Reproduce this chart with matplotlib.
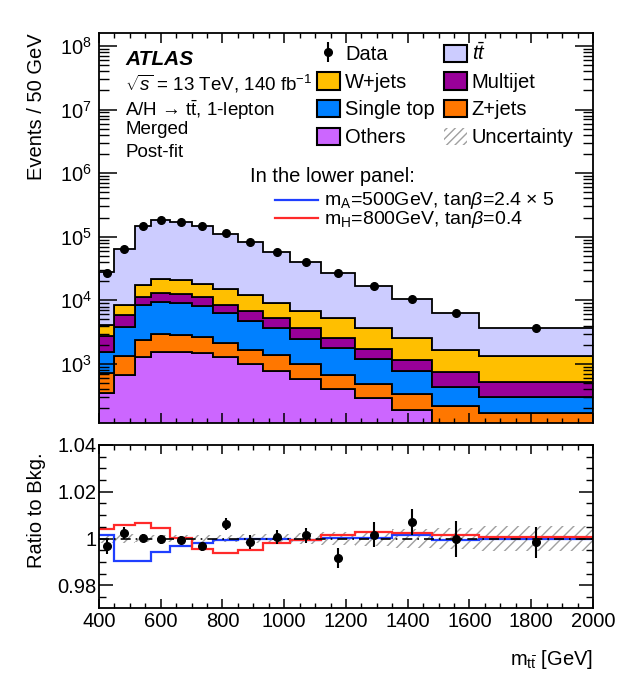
import numpy as np
import matplotlib
matplotlib.use("Agg")
import matplotlib.pyplot as plt
from matplotlib.patches import Patch
from matplotlib.lines import Line2D
from matplotlib.ticker import LogLocator, MultipleLocator, FixedLocator, NullFormatter

plt.rcParams['font.family'] = ['Liberation Sans', 'DejaVu Sans']
plt.rcParams['mathtext.fontset'] = 'custom'
plt.rcParams['mathtext.rm'] = 'Liberation Sans'
plt.rcParams['mathtext.it'] = 'Liberation Sans:italic'
plt.rcParams['mathtext.bf'] = 'Liberation Sans:bold'
plt.rcParams['hatch.linewidth'] = 1.0

# m_tt binning [GeV]
edges = np.array([400, 450, 515, 570, 630, 700, 770, 850, 930, 1020,
                  1120, 1230, 1350, 1480, 1630, 2000])

# post-fit background yields (events / 50 GeV)
others = np.array([346, 671, 1274, 1561, 1545, 1472, 1274, 1000, 776, 581, 400, 289, 189, 90, 60])
zjets = np.array([368, 665, 1110, 1382, 1312, 1188, 841, 660, 610, 419, 259, 196, 148, 129, 108])
single_top = np.array([847, 2440, 6090, 6600, 6340, 5510, 4295, 3135, 2254, 1472, 1127, 693, 448, 221, 138])
multijet = np.array([1193, 2114, 2960, 3400, 3410, 3020, 2060, 2015, 1595, 1168, 732, 524, 371, 317, 221])
wjets = np.array([1351, 2580, 6030, 8540, 7950, 6920, 6490, 5350, 3765, 3250, 2717, 1938, 1379, 903, 809])
ttbar = np.array([23300, 56400, 130500, 162600, 152600, 130400, 97300, 69300, 49300, 33700,
                  21700, 13100, 7800, 4610, 2390])

# data / background and its stat. error
ratio = np.array([0.9967, 1.0024, 1.0003, 0.9996, 0.9993, 0.9967, 1.0063, 0.9984, 1.0007, 1.0013,
                  0.9917, 1.0017, 1.0071, 0.9999, 0.9984])
ratio_err = np.array([0.0033, 0.0025, 0.0018, 0.0018, 0.0018, 0.0020, 0.0025, 0.0030, 0.0030, 0.0032,
                      0.0043, 0.0054, 0.0054, 0.0078, 0.0066])
# relative background uncertainty
bkg_unc = np.array([0.0020, 0.0018, 0.0015, 0.0015, 0.0015, 0.0015, 0.0015, 0.0018, 0.0020, 0.0022,
                    0.0028, 0.0032, 0.0040, 0.0045, 0.0053])

# (S+B)/B for the two signal hypotheses
sig_A500 = np.array([1.0017, 0.9906, 0.9906, 0.9941, 0.9967, 0.9981, 0.9993, 0.9996, 0.9999, 0.9995,
                     1.0003, 1.0003, 1.0014, 0.9993, 1.0000])
sig_H800 = np.array([1.0041, 1.0060, 1.0067, 1.0046, 1.0003, 0.9956, 0.9939, 0.9949, 0.9981, 0.9994,
                     1.0017, 1.0027, 1.0024, 1.0014, 1.0007])

centres = 0.5 * (edges[1:] + edges[:-1])
total = others + zjets + single_top + multijet + wjets + ttbar
data = total * ratio

fig = plt.figure(figsize=(6.18, 6.80), dpi=100)
ax = fig.add_axes([0.1602, 0.378, 0.7993, 0.573])
ax2 = fig.add_axes([0.1602, 0.1059, 0.7993, 0.2397])

# ---- upper panel: stacked backgrounds ----
stack = [("Others", others, "#cc66ff"),
         ("Z+jets", zjets, "#ff7700"),
         ("Single top", single_top, "#0080ff"),
         ("Multijet", multijet, "#990099"),
         ("W+jets", wjets, "#ffbf00"),
         (r"$t\bar{t}$", ttbar, "#ccccff")]
base = np.ones(len(centres))
handles = {}
for name, vals, col in stack:
    top = base + vals
    ax.stairs(top, edges, baseline=base, fill=True, facecolor=col,
              edgecolor="black", linewidth=1.3)
    handles[name] = Patch(facecolor=col, edgecolor="black", linewidth=1.5)
    base = top

dat = ax.errorbar(centres, data, yerr=data * ratio_err, fmt="o", color="black",
                  ms=5.5, elinewidth=1.5, capsize=0)

ax.set_yscale("log")
ax.set_xlim(400, 2000)
ax.set_ylim(118, 1.58e8)
ax.yaxis.set_major_locator(FixedLocator([1e3, 1e4, 1e5, 1e6, 1e7, 1e8]))
ax.yaxis.set_minor_locator(LogLocator(base=10, subs=np.arange(2, 10), numticks=50))
ax.yaxis.set_minor_formatter(NullFormatter())
ax.xaxis.set_major_locator(MultipleLocator(200))
ax.xaxis.set_minor_locator(MultipleLocator(50))
ax.tick_params(which="both", direction="in", top=True, right=True, labelbottom=False,
               labelsize=14.5)
ax.tick_params(axis="y", which="major", length=13, width=1.1, pad=5)
ax.tick_params(axis="y", which="minor", length=7, width=1.0)
ax.tick_params(axis="x", which="major", length=7, width=1.1)
ax.tick_params(axis="x", which="minor", length=3.5, width=1.0)
ax.set_ylabel("Events / 50 GeV", fontsize=14.5, loc="top")
ax.yaxis.set_label_coords(-0.108, 1.0)

ax.text(0.053, 0.919, "ATLAS", transform=ax.transAxes, fontsize=15,
        fontweight="bold", fontstyle="italic", va="baseline")
ax.text(0.053, 0.8545, r"$\sqrt{s}$ = 13 TeV, 140 fb$^{-1}$", transform=ax.transAxes,
        fontsize=13.5, va="baseline")
ax.text(0.053, 0.788, r"A/H → t$\bar{\rm t}$, 1-lepton", transform=ax.transAxes,
        fontsize=13.5, va="baseline")
ax.text(0.053, 0.741, "Merged", transform=ax.transAxes, fontsize=13.5, va="baseline")
ax.text(0.053, 0.683, "Post-fit", transform=ax.transAxes, fontsize=13.5, va="baseline")

unc_handle = Patch(facecolor="none", edgecolor="#a0a0a0", hatch="////", linewidth=0)
leg_handles = [dat, handles["W+jets"], handles["Single top"], handles["Others"],
               handles[r"$t\bar{t}$"], handles["Multijet"], handles["Z+jets"], unc_handle]
leg_labels = ["Data", "W+jets", "Single top", "Others",
              r"$t\bar{t}$", "Multijet", "Z+jets", "Uncertainty"]
ax.legend(leg_handles, leg_labels, ncol=2, loc="upper left", bbox_to_anchor=(0.4413, 0.977),
          frameon=False, fontsize=14.5, borderpad=0, borderaxespad=0,
          handlelength=1.13, handleheight=0.95, handletextpad=0.26,
          columnspacing=0.45, labelspacing=0.4)

# key for the signal curves of the lower panel
ax.text(0.3057, 0.619, "In the lower panel:", transform=ax.transAxes, fontsize=14.5,
        va="baseline")
ax.add_line(Line2D([0.356, 0.443], [0.5735, 0.5735], transform=ax.transAxes,
                   color="#1f3fff", lw=1.6))
ax.add_line(Line2D([0.356, 0.443], [0.525, 0.525], transform=ax.transAxes,
                   color="#ff2a2a", lw=1.6))
ax.text(0.4555, 0.560, r"m$_{\rm A}$=500GeV, tan$\beta$=2.4 × 5", transform=ax.transAxes,
        fontsize=14, va="baseline")
ax.text(0.4555, 0.511, r"m$_{\rm H}$=800GeV, tan$\beta$=0.4", transform=ax.transAxes,
        fontsize=14, va="baseline")

for s in ax.spines.values():
    s.set_linewidth(1.3)

# ---- lower panel: ratio ----
ax2.stairs(1 + bkg_unc, edges, baseline=1 - bkg_unc, fill=True, facecolor="none",
           edgecolor="#a0a0a0", hatch="///", linewidth=0)
ax2.axhline(1.0, color="black", lw=1.2, ls=(0, (6, 3, 1, 3)))
ax2.stairs(sig_A500, edges, baseline=None, color="#1f3fff", lw=1.6)
ax2.stairs(sig_H800, edges, baseline=None, color="#ff2a2a", lw=1.6)
ax2.errorbar(centres, ratio, yerr=ratio_err, fmt="o", color="black",
             ms=5.5, elinewidth=1.5, capsize=0)

ax2.set_xlim(400, 2000)
ax2.set_ylim(0.9703, 1.04)
ax2.yaxis.set_major_locator(FixedLocator([0.98, 1.0, 1.02, 1.04]))
ax2.set_yticklabels(["0.98", "1", "1.02", "1.04"])
ax2.yaxis.set_minor_locator(MultipleLocator(0.005))
ax2.xaxis.set_major_locator(MultipleLocator(200))
ax2.xaxis.set_minor_locator(MultipleLocator(50))
ax2.tick_params(which="both", direction="in", top=True, right=True, labelsize=14.5)
ax2.tick_params(axis="y", which="major", length=10, width=1.1, pad=2)
ax2.tick_params(axis="y", which="minor", length=5, width=1.0)
ax2.tick_params(axis="x", which="major", length=6.5, width=1.1, pad=3)
ax2.tick_params(axis="x", which="minor", length=3.5, width=1.0)
ax2.set_ylabel("Ratio to Bkg.", fontsize=14.5, loc="top")
ax2.yaxis.set_label_coords(-0.108, 0.957)
ax2.set_xlabel(r"m$_{\rm t\bar{t}}$ [GeV]", fontsize=14.5, loc="right", labelpad=12)
for s in ax2.spines.values():
    s.set_linewidth(1.3)

fig.savefig("out.png", dpi=100)
